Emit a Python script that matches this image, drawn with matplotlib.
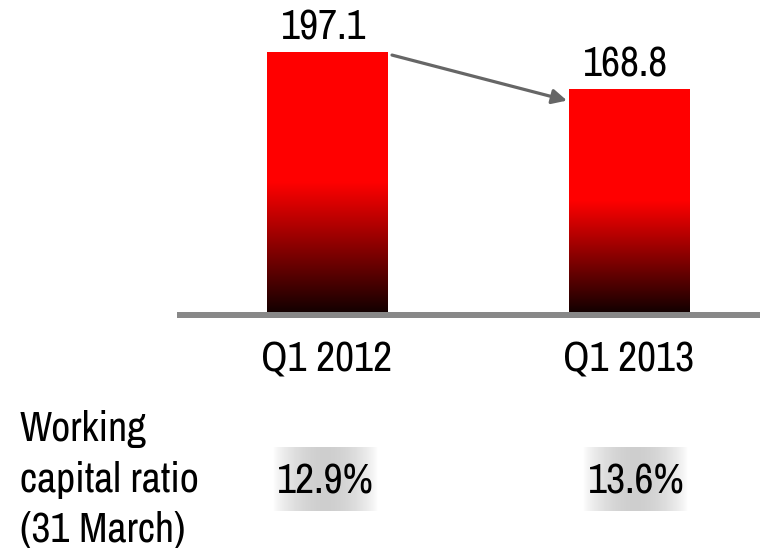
import numpy as np
import matplotlib
matplotlib.use("Agg")
import matplotlib.pyplot as plt
from matplotlib import font_manager as fm
from matplotlib.patches import Rectangle

categories = ["Q1 2012", "Q1 2013"]
values = [197.1, 168.8]
value_labels = ["197.1", "168.8"]
ratio_labels = ["12.9%", "13.6%"]
row_label_lines = ["Working", "capital ratio", "(31 March)"]

names = {f.name for f in fm.fontManager.ttflist}
fam = "DejaVu Sans"
for cand in ["Liberation Sans Narrow", "Arial Narrow", "Archivo Narrow", "Roboto Condensed", "PT Sans Narrow"]:
    if cand in names:
        fam = cand
        break
plt.rcParams["font.family"] = [fam, "DejaVu Sans"]

W, H, DPI = 760, 548, 100
fig = plt.figure(figsize=(W / DPI, H / DPI), dpi=DPI)
ax = fig.add_axes([0, 0, 1, 1])
ax.set_axis_off()

# fit font size so that the category label is ~131 px wide
renderer = fig.canvas.get_renderer()
probe = fig.text(0, 0, categories[0], fontsize=30)
wpx = probe.get_window_extent(renderer).width
probe.remove()
fs = 30 * 131.0 / wpx

x0_px, step_px = 327.0, 302.0
base_px, scale = 312.0, 1.319
ax.set_xlim((0 - x0_px) / step_px, (W - x0_px) / step_px)
ax.set_ylim(-(H - base_px) / scale, base_px / scale)

def px_x(p):
    return (p - x0_px) / step_px

def px_y(p):
    return (base_px - p) / scale

xs = np.arange(len(categories))
bw = 0.40
dark = np.array([0.08, 0.0, 0.0])
red = np.array([1.0, 0.0, 0.0])
bars = ax.bar(xs, values, width=bw, color="none", edgecolor="none", zorder=2)
n = 256
f = np.linspace(0, 1, n)
t = np.clip(f / 0.5, 0, 1)
cols = dark[None, :] * (1 - t[:, None]) + red[None, :] * t[:, None]
grad = np.repeat(cols[:, None, :], 2, axis=1)
for b in bars:
    x, w, h = b.get_x(), b.get_width(), b.get_height()
    im = ax.imshow(grad, extent=[x, x + w, 0, h], origin="lower",
                   aspect="auto", interpolation="bilinear", zorder=2)
    im.set_clip_path(b)

# baseline
ax.add_patch(Rectangle((px_x(177), px_y(318.5)), px_x(W + 5) - px_x(177),
                       6.5 / scale, facecolor="#888888", edgecolor="none", zorder=3))

for i, (v, lab) in enumerate(zip(values, value_labels)):
    ax.text(xs[i] - 0.01, v + 12.5 / scale, lab, ha="center", va="baseline",
            fontsize=fs, color="black")
for i, c in enumerate(categories):
    ax.text(xs[i], px_y(372), c, ha="center", va="baseline", fontsize=fs, color="black")

# arrow
ax.annotate("", xy=(px_x(567), values[1] - 8.5), xytext=(px_x(392), values[0] - 2.3),
            arrowprops=dict(arrowstyle="-|>", lw=2.3, color="#666666",
                            mutation_scale=22, shrinkA=0, shrinkB=0), zorder=4)

# ratio labels with soft grey band
tt = np.linspace(0, 1, 200)
g = 1 - 0.19 * np.sin(np.pi * tt) ** 0.8
band = np.repeat(np.stack([g, g, g], axis=1)[None, :, :], 2, axis=0)
rx = [325.5, 636.0]
for i, lab in enumerate(ratio_labels):
    cx = rx[i]
    ax.imshow(band, extent=[px_x(cx - 53), px_x(cx + 52), px_y(511), px_y(447)],
              aspect="auto", interpolation="bilinear", zorder=1)
    ax.text(px_x(cx), px_y(494), lab, ha="center", va="baseline", fontsize=fs, color="black", zorder=5)

for line, yb in zip(row_label_lines, [441, 492, 542]):
    ax.text(px_x(20), px_y(yb), line, ha="left", va="baseline", fontsize=fs)

ax.set_xlim((0 - x0_px) / step_px, (W - x0_px) / step_px)
ax.set_ylim(-(H - base_px) / scale, base_px / scale)
fig.savefig("out.png", dpi=DPI)
